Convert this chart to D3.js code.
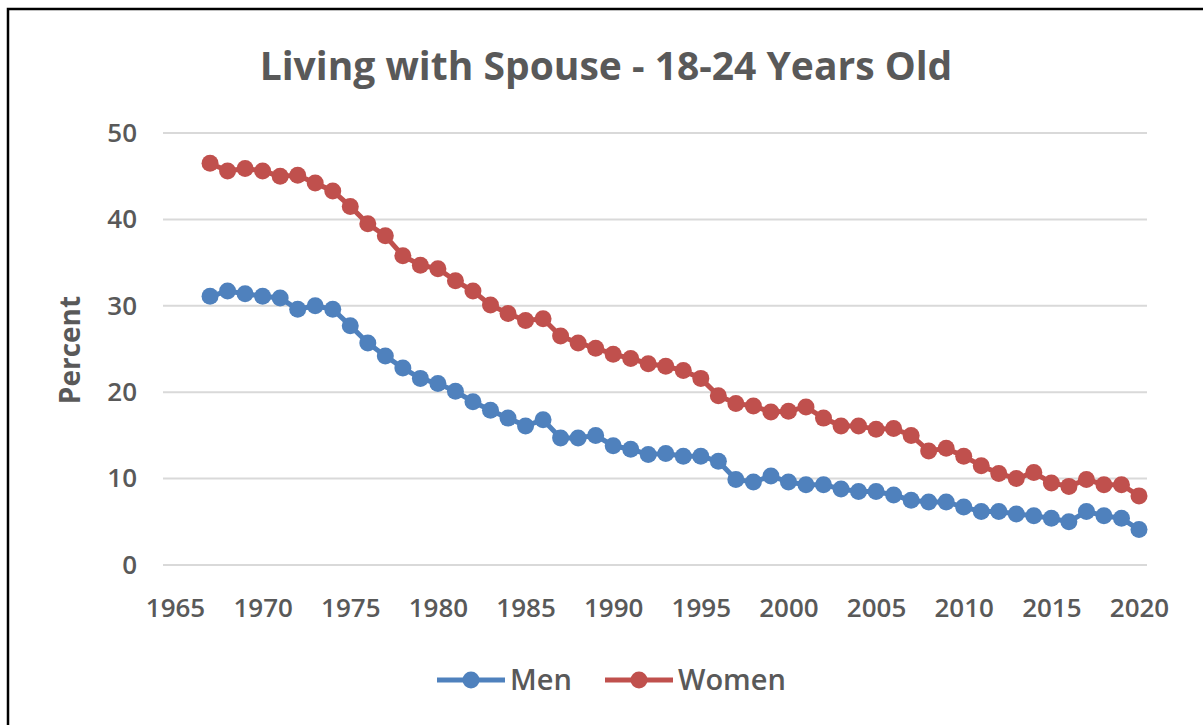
<!DOCTYPE html>
<html>
<head>
<meta charset="utf-8">
<script src="https://cdn.jsdelivr.net/npm/d3@7"></script>
<style>
  body { margin: 0; background: #fff; }
  text { font-family: "Open Sans", sans-serif; font-weight: 600; fill: #595959; }
</style>
</head>
<body>
<div id="my_dataviz"></div>
<script>
// data (percent living with spouse, age 18-24)
var years = [1967,1968,1969,1970,1971,1972,1973,1974,1975,1976,1977,1978,1979,1980,1981,1982,1983,1984,1985,
             1986,1987,1988,1989,1990,1991,1992,1993,1994,1995,1996,1997,1998,1999,2000,2001,2002,2003,
             2004,2005,2006,2007,2008,2009,2010,2011,2012,2013,2014,2015,2016,2017,2018,2019,2020];
var men = [31.1,31.7,31.4,31.1,30.9,29.6,30.0,29.6,27.7,25.7,24.2,22.8,21.6,21.0,20.1,18.9,17.9,17.0,16.1,
           16.8,14.7,14.7,15.0,13.8,13.4,12.8,12.9,12.6,12.6,12.0,9.9,9.6,10.3,9.6,9.3,9.3,8.8,
           8.5,8.5,8.1,7.5,7.3,7.3,6.7,6.2,6.2,5.9,5.7,5.4,5.0,6.2,5.7,5.4,4.1];
var women = [46.5,45.6,45.9,45.6,45.0,45.1,44.2,43.3,41.5,39.5,38.1,35.8,34.7,34.3,32.9,31.7,30.1,29.1,28.3,
             28.5,26.5,25.7,25.1,24.4,23.9,23.3,23.0,22.5,21.6,19.6,18.7,18.4,17.7,17.8,18.3,17.0,16.1,
             16.1,15.7,15.8,15.0,13.2,13.5,12.6,11.5,10.6,10.0,10.7,9.5,9.1,9.9,9.3,9.3,8.0];
var xTicks = [1965,1970,1975,1980,1985,1990,1995,2000,2005,2010,2015,2020];
var yTicks = [0,10,20,30,40,50];
var seriesNames = ["Men", "Women"];
var colors = ["#4F81BD", "#C0504D"];

var Width = 1203, Height = 725;

var svg = d3.select("#my_dataviz")
  .append("svg")
    .attr("width", Width)
    .attr("height", Height);

// frame
svg.append("rect")
  .attr("x", 8).attr("y", 9)
  .attr("width", Width).attr("height", Height)
  .style("fill", "none")
  .style("stroke", "#000")
  .style("stroke-width", 2.5);

// scales
var x = d3.scaleLinear().domain([1965, 2020]).range([175, 1139]);
var y = d3.scaleLinear().domain([0, 50]).range([565, 133]);

// gridlines
svg.append("g")
  .selectAll("line")
  .data(yTicks)
  .enter()
  .append("line")
    .attr("x1", x(1965) - 12)
    .attr("x2", x(2020) + 8)
    .attr("y1", function(d) { return y(d); })
    .attr("y2", function(d) { return y(d); })
    .style("stroke", "#D9D9D9")
    .style("stroke-width", 2);

// axes
var xAxis = svg.append("g")
  .attr("transform", "translate(0," + y(0) + ")")
  .call(d3.axisBottom(x).tickValues(xTicks).tickFormat(d3.format("d")).tickSize(0).tickPadding(34));
xAxis.select(".domain").remove();
xAxis.selectAll("text").style("font-size", "26px").style("font-family", null).style("fill", "#595959");

var yAxis = svg.append("g")
  .attr("transform", "translate(" + (x(1965) - 12) + ",0)")
  .call(d3.axisLeft(y).tickValues(yTicks).tickSize(0).tickPadding(26));
yAxis.select(".domain").remove();
yAxis.selectAll("text").style("font-size", "26px").style("font-family", null).style("fill", "#595959");

// title
svg.append("text")
  .attr("x", 606).attr("y", 80)
  .attr("text-anchor", "middle")
  .style("font-size", "39px")
  .style("font-weight", 700)
  .text("Living with Spouse - 18-24 Years Old");

// y label
svg.append("text")
  .attr("transform", "translate(80,350) rotate(-90)")
  .attr("text-anchor", "middle")
  .style("font-size", "28px")
  .style("font-weight", 700)
  .text("Percent");

// lines + dots
var line = d3.line()
  .x(function(d) { return x(d.year); })
  .y(function(d) { return y(d.value); });

[men, women].forEach(function(vals, i) {
  var pts = years.map(function(yr, j) { return {year: yr, value: vals[j]}; });
  svg.append("path")
    .datum(pts)
    .attr("d", line)
    .style("fill", "none")
    .style("stroke", colors[i])
    .style("stroke-width", 5);
  svg.append("g")
    .selectAll("circle")
    .data(pts)
    .enter()
    .append("circle")
      .attr("cx", function(d) { return x(d.year); })
      .attr("cy", function(d) { return y(d.value); })
      .attr("r", 8.5)
      .style("fill", colors[i]);
});

// legend
var legendX = [437, 605];
seriesNames.forEach(function(name, i) {
  var g = svg.append("g").attr("transform", "translate(" + legendX[i] + ",680)");
  g.append("line").attr("x1", 0).attr("x2", 68).attr("y1", 0).attr("y2", 0)
    .style("stroke", colors[i]).style("stroke-width", 5);
  g.append("circle").attr("cx", 34).attr("cy", 0).attr("r", 8.5).style("fill", colors[i]);
  g.append("text").attr("x", 73).attr("y", 0).attr("dy", "0.35em")
    .style("font-size", "29px")
    .text(name);
});
</script>
</body>
</html>
